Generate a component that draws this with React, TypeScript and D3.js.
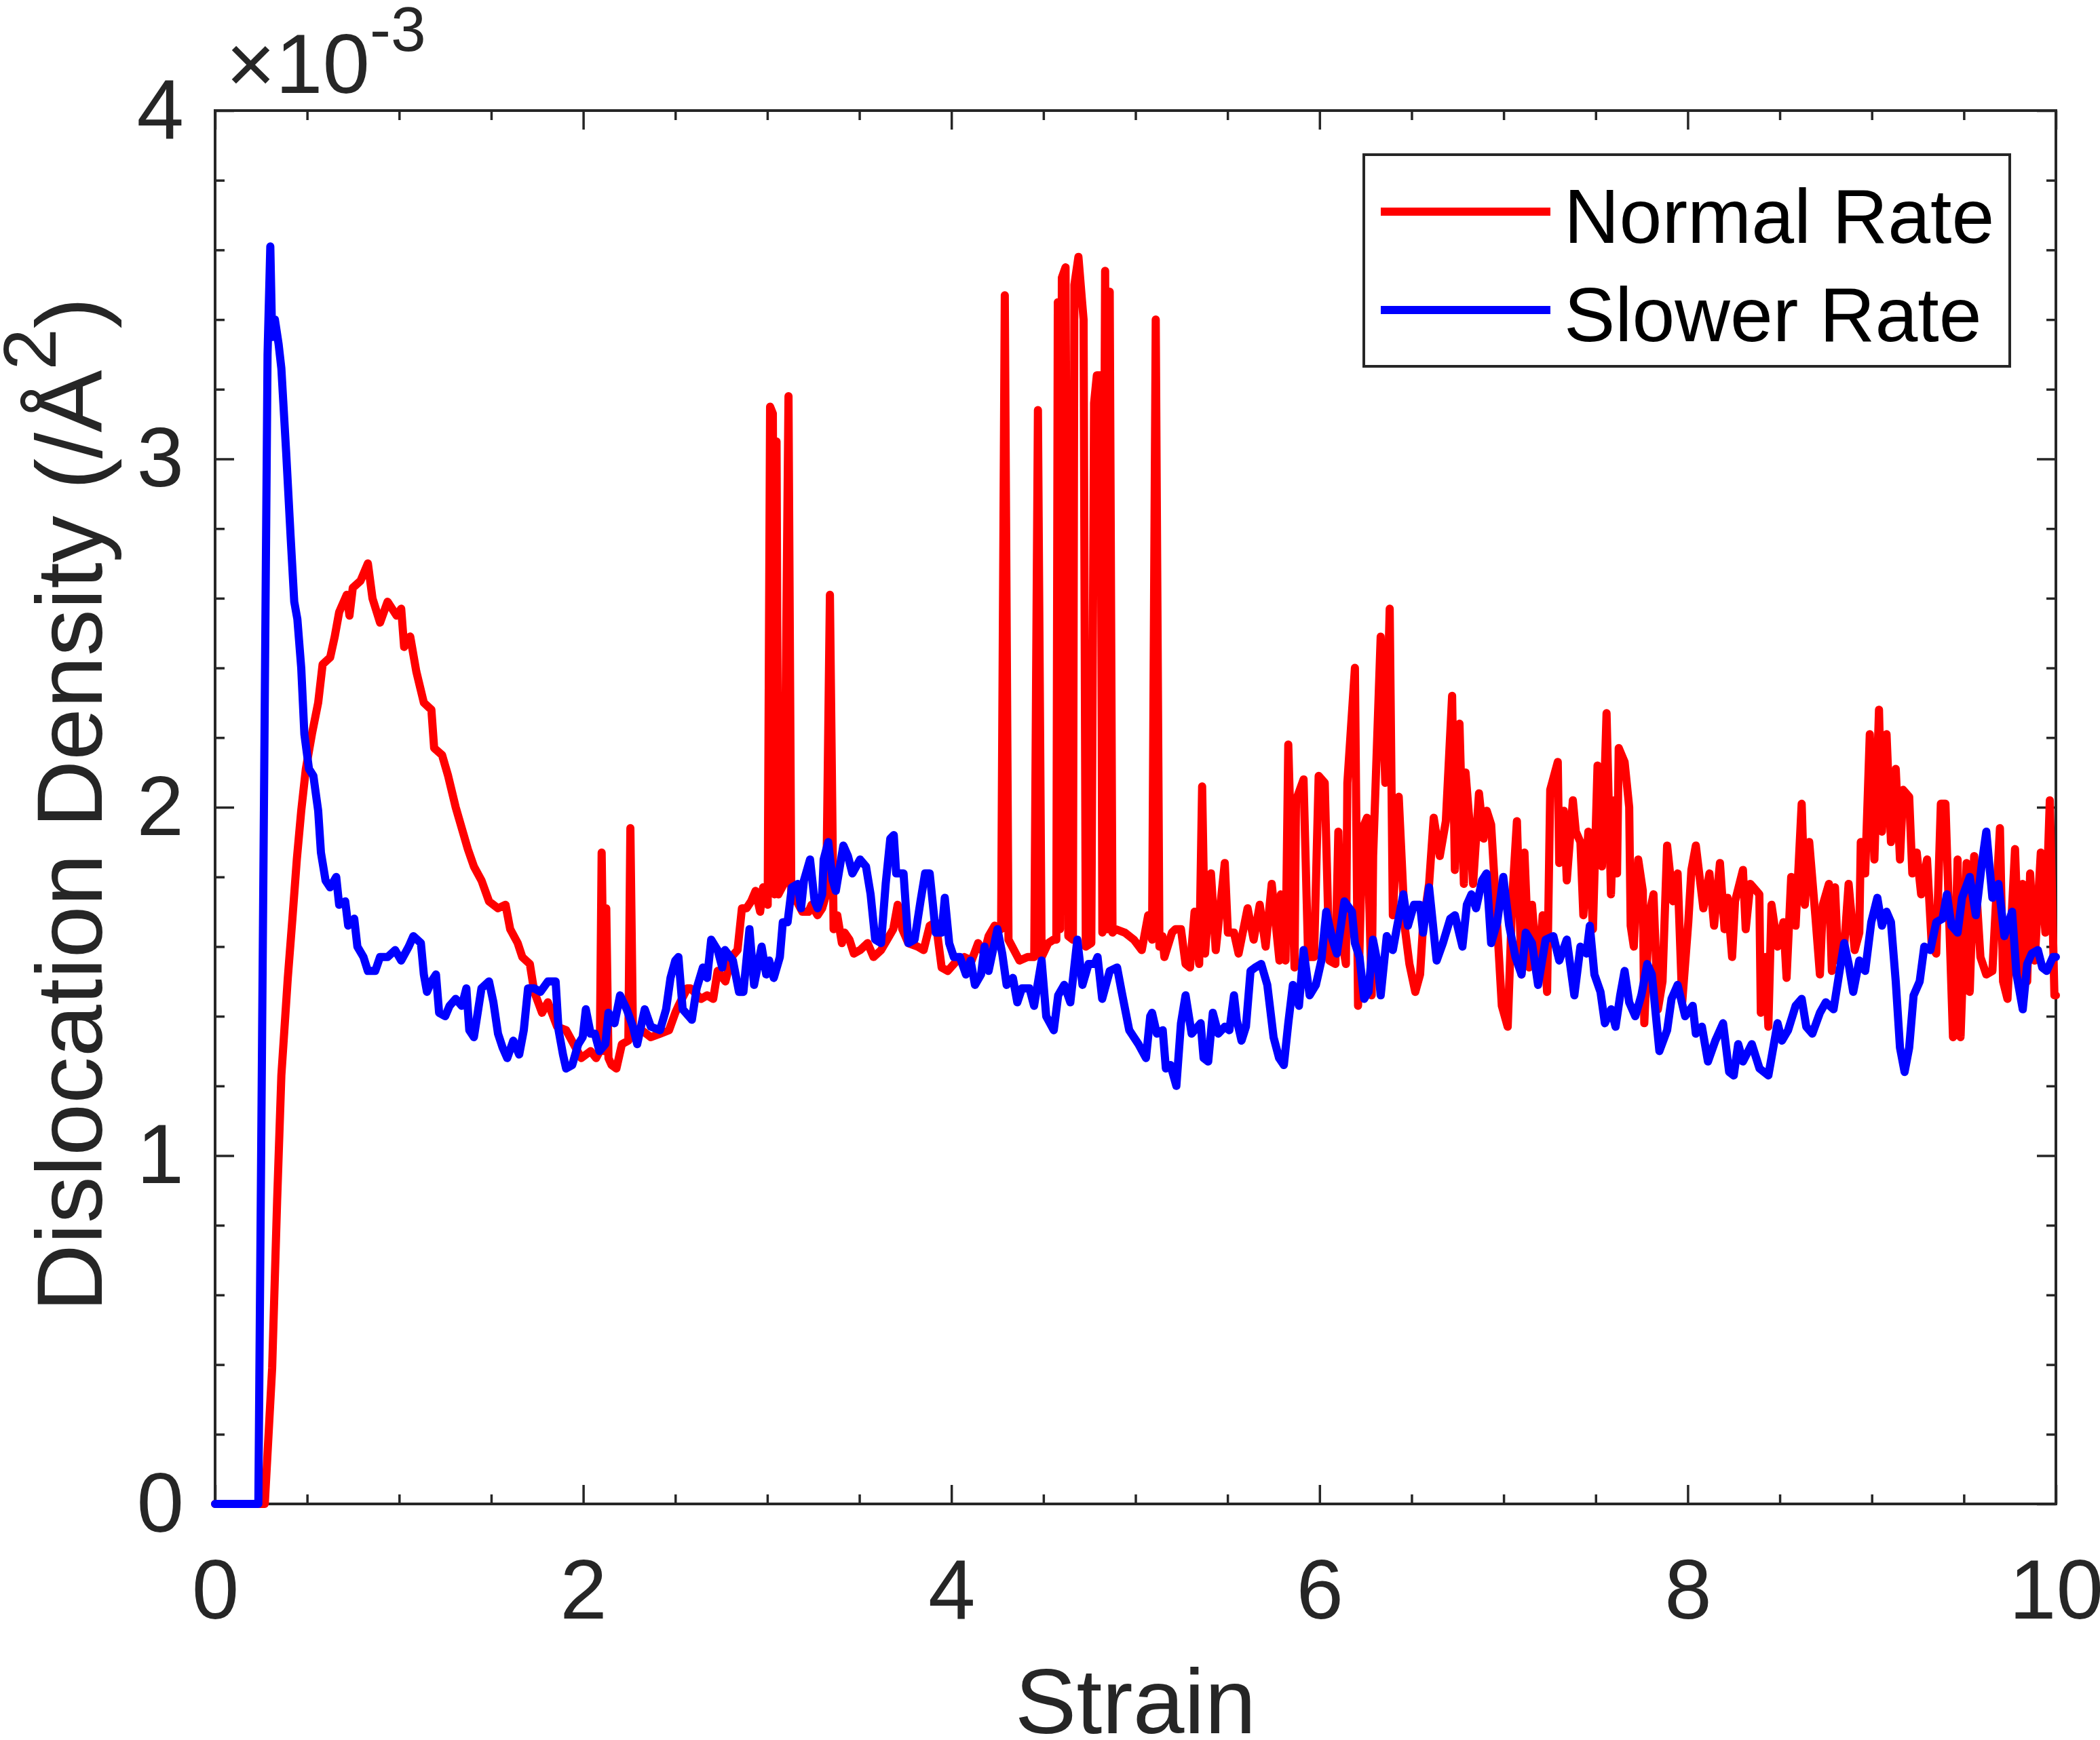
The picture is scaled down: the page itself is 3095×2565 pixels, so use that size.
import { useRef, useEffect } from 'react';
import * as d3 from 'd3';

// strain, dislocation density (x 10^-3 /Å^2)
const normalRate: [number, number][] = [
  [0, 0], [0.27, 0], [0.31, 0.39], [0.337, 0.87], [0.36, 1.23], [0.395, 1.51], [0.42, 1.68], [0.444, 1.85],
  [0.468, 1.99], [0.493, 2.11], [0.526, 2.21], [0.56, 2.3], [0.584, 2.41], [0.625, 2.43], [0.65, 2.49], [0.674, 2.56],
  [0.715, 2.61], [0.73, 2.55], [0.748, 2.63], [0.79, 2.65], [0.83, 2.7], [0.855, 2.6], [0.896, 2.53], [0.937, 2.59],
  [0.986, 2.55], [1.011, 2.57], [1.027, 2.46], [1.06, 2.49], [1.093, 2.39], [1.134, 2.3], [1.175, 2.28], [1.19, 2.17],
  [1.233, 2.15], [1.266, 2.09], [1.307, 2.0], [1.34, 1.94], [1.373, 1.88], [1.406, 1.83], [1.447, 1.79], [1.488, 1.73],
  [1.537, 1.71], [1.578, 1.72], [1.603, 1.65], [1.644, 1.61], [1.669, 1.57], [1.71, 1.55], [1.734, 1.47], [1.776, 1.41],
  [1.808, 1.44], [1.858, 1.37], [1.907, 1.36], [1.948, 1.32], [1.989, 1.28], [2.04, 1.3], [2.07, 1.28], [2.09, 1.3],
  [2.1, 1.87], [2.115, 1.3], [2.125, 1.71], [2.137, 1.28], [2.154, 1.26], [2.18, 1.25], [2.21, 1.32], [2.245, 1.33],
  [2.256, 1.94], [2.27, 1.35], [2.318, 1.36], [2.367, 1.34], [2.417, 1.35], [2.466, 1.36], [2.5, 1.41], [2.517, 1.43],
  [2.565, 1.48], [2.583, 1.48], [2.64, 1.45], [2.673, 1.46], [2.706, 1.45], [2.73, 1.53], [2.772, 1.5], [2.805, 1.57],
  [2.838, 1.59], [2.862, 1.71], [2.887, 1.71], [2.912, 1.73], [2.936, 1.76], [2.961, 1.7], [2.977, 1.77], [3.002, 1.72],
  [3.015, 3.15], [3.03, 3.13], [3.04, 1.75], [3.05, 3.05], [3.06, 1.75], [3.09, 1.78], [3.115, 3.18], [3.13, 1.76],
  [3.15, 1.74], [3.19, 1.7], [3.224, 1.7], [3.24, 1.72], [3.273, 1.69], [3.298, 1.71], [3.32, 1.75], [3.34, 2.61],
  [3.36, 1.65], [3.38, 1.69], [3.405, 1.61], [3.42, 1.64], [3.446, 1.62], [3.47, 1.58], [3.504, 1.59], [3.545, 1.61],
  [3.577, 1.57], [3.618, 1.59], [3.651, 1.62], [3.684, 1.65], [3.708, 1.72], [3.733, 1.65], [3.766, 1.61], [3.816, 1.6],
  [3.849, 1.59], [3.882, 1.66], [3.915, 1.67], [3.947, 1.54], [3.98, 1.53], [4.03, 1.56], [4.07, 1.57], [4.11, 1.56],
  [4.145, 1.61], [4.177, 1.58], [4.202, 1.63], [4.235, 1.66], [4.27, 1.65], [4.29, 3.47], [4.31, 1.62], [4.33, 1.6],
  [4.37, 1.56], [4.414, 1.57], [4.45, 1.57], [4.47, 3.14], [4.49, 1.57], [4.526, 1.61], [4.555, 1.62], [4.57, 1.62],
  [4.578, 3.45], [4.59, 1.65], [4.6, 3.52], [4.62, 3.55], [4.635, 1.63], [4.66, 1.62], [4.668, 3.5], [4.69, 3.58],
  [4.71, 3.45], [4.718, 3.4], [4.73, 1.6], [4.76, 1.61], [4.775, 3.16], [4.79, 3.24], [4.81, 3.24], [4.82, 1.64],
  [4.835, 3.54], [4.85, 1.65], [4.86, 3.48], [4.875, 1.64], [4.893, 1.65], [4.942, 1.64], [4.991, 1.62], [5.034, 1.59],
  [5.069, 1.69], [5.09, 1.62], [5.11, 3.4], [5.13, 1.6], [5.146, 1.63], [5.157, 1.57], [5.198, 1.64], [5.217, 1.65],
  [5.247, 1.65], [5.272, 1.55], [5.296, 1.54], [5.321, 1.7], [5.346, 1.55], [5.362, 2.06], [5.378, 1.58], [5.41, 1.81],
  [5.436, 1.59], [5.485, 1.84], [5.502, 1.64], [5.535, 1.64], [5.56, 1.58], [5.609, 1.71], [5.642, 1.62], [5.675, 1.72],
  [5.707, 1.6], [5.74, 1.78], [5.782, 1.56], [5.79, 1.75], [5.815, 1.56], [5.83, 2.18], [5.864, 1.54], [5.872, 2.02],
  [5.913, 2.08], [5.938, 1.57], [5.97, 1.57], [5.995, 2.09], [6.028, 2.07], [6.053, 1.56], [6.086, 1.55], [6.102, 1.93],
  [6.118, 1.63], [6.143, 1.55], [6.151, 2.07], [6.192, 2.4], [6.209, 1.43], [6.234, 1.94], [6.258, 1.97], [6.283, 1.46],
  [6.291, 1.86], [6.332, 2.49], [6.357, 2.07], [6.381, 2.57], [6.398, 1.69], [6.43, 2.03], [6.464, 1.65], [6.488, 1.55],
  [6.52, 1.47], [6.546, 1.52], [6.562, 1.66], [6.595, 1.78], [6.62, 1.97], [6.653, 1.86], [6.686, 1.96], [6.72, 2.32],
  [6.735, 1.82], [6.76, 2.24], [6.784, 1.78], [6.793, 2.1], [6.817, 1.94], [6.834, 1.78], [6.866, 2.04], [6.891, 1.91],
  [6.908, 1.99], [6.932, 1.95], [6.965, 1.66], [6.99, 1.43], [7.022, 1.37], [7.047, 1.74], [7.072, 1.96], [7.097, 1.52],
  [7.113, 1.87], [7.138, 1.54], [7.154, 1.72], [7.187, 1.5], [7.212, 1.69], [7.236, 1.47], [7.253, 2.05], [7.294, 2.13],
  [7.302, 1.84], [7.327, 1.99], [7.343, 1.79], [7.376, 2.02], [7.392, 1.93], [7.417, 1.9], [7.433, 1.69], [7.46, 1.93],
  [7.485, 1.65], [7.51, 2.12], [7.534, 1.83], [7.559, 2.27], [7.583, 1.75], [7.6, 2.02], [7.616, 1.81], [7.625, 2.17],
  [7.657, 2.13], [7.682, 2.0], [7.69, 1.66], [7.707, 1.6], [7.731, 1.85], [7.756, 1.76], [7.764, 1.38], [7.79, 1.69],
  [7.814, 1.75], [7.838, 1.42], [7.863, 1.5], [7.888, 1.89], [7.92, 1.73], [7.945, 1.81], [7.97, 1.44], [8.003, 1.67],
  [8.02, 1.82], [8.044, 1.89], [8.085, 1.71], [8.118, 1.81], [8.143, 1.66], [8.175, 1.84], [8.2, 1.65], [8.216, 1.74],
  [8.241, 1.57], [8.257, 1.73], [8.3, 1.82], [8.315, 1.65], [8.34, 1.78], [8.373, 1.76], [8.389, 1.75], [8.397, 1.41],
  [8.422, 1.57], [8.438, 1.37], [8.455, 1.72], [8.488, 1.6], [8.52, 1.67], [8.537, 1.51], [8.562, 1.8], [8.586, 1.66],
  [8.619, 2.01], [8.636, 1.72], [8.66, 1.9], [8.693, 1.69], [8.718, 1.52], [8.734, 1.72], [8.767, 1.78], [8.783, 1.53],
  [8.8, 1.77], [8.817, 1.56], [8.85, 1.6], [8.874, 1.78], [8.907, 1.59], [8.932, 1.64], [8.94, 1.9], [8.964, 1.81],
  [8.989, 2.21], [9.014, 1.85], [9.039, 2.28], [9.055, 1.93], [9.08, 2.21], [9.104, 1.9], [9.13, 2.11], [9.153, 1.85],
  [9.17, 2.05], [9.203, 2.03], [9.22, 1.81], [9.244, 1.87], [9.268, 1.75], [9.3, 1.85], [9.326, 1.6], [9.35, 1.58],
  [9.375, 2.01], [9.4, 2.01], [9.441, 1.34], [9.466, 1.85], [9.482, 1.34], [9.515, 1.84], [9.532, 1.47], [9.556, 1.86],
  [9.59, 1.57], [9.622, 1.52], [9.655, 1.53], [9.696, 1.94], [9.713, 1.5], [9.737, 1.45], [9.778, 1.88], [9.803, 1.5],
  [9.819, 1.78], [9.844, 1.5], [9.86, 1.81], [9.885, 1.56], [9.918, 1.87], [9.943, 1.64], [9.967, 2.02], [9.992, 1.46],
  [10, 1.46],
];

const slowerRate: [number, number][] = [
  [0, 0], [0.235, 0], [0.285, 3.3], [0.3, 3.61], [0.31, 3.35], [0.325, 3.4], [0.345, 3.33], [0.36, 3.26],
  [0.386, 3.02], [0.41, 2.78], [0.43, 2.59], [0.447, 2.54], [0.468, 2.4], [0.485, 2.21], [0.51, 2.11], [0.534, 2.09],
  [0.56, 1.99], [0.575, 1.87], [0.6, 1.79], [0.625, 1.77], [0.658, 1.8], [0.674, 1.72], [0.707, 1.73], [0.723, 1.66],
  [0.756, 1.68], [0.773, 1.6], [0.806, 1.57], [0.83, 1.53], [0.87, 1.53], [0.896, 1.57], [0.937, 1.57], [0.978, 1.59],
  [1.011, 1.56], [1.052, 1.6], [1.077, 1.63], [1.118, 1.61], [1.134, 1.52], [1.151, 1.47], [1.175, 1.5], [1.2, 1.52],
  [1.217, 1.41], [1.25, 1.4], [1.274, 1.43], [1.307, 1.45], [1.34, 1.43], [1.365, 1.48], [1.381, 1.36], [1.406, 1.34],
  [1.447, 1.48], [1.488, 1.5], [1.512, 1.44], [1.537, 1.35], [1.562, 1.31], [1.587, 1.28], [1.62, 1.33], [1.652, 1.29],
  [1.677, 1.36], [1.7, 1.48], [1.734, 1.48], [1.767, 1.47], [1.808, 1.5], [1.85, 1.5], [1.866, 1.36], [1.89, 1.29],
  [1.907, 1.25], [1.94, 1.26], [1.973, 1.32], [1.997, 1.34], [2.014, 1.42], [2.04, 1.35], [2.063, 1.35], [2.088, 1.3],
  [2.12, 1.32], [2.137, 1.41], [2.17, 1.38], [2.2, 1.46], [2.236, 1.42], [2.27, 1.37], [2.293, 1.32], [2.334, 1.42],
  [2.367, 1.37], [2.417, 1.36], [2.45, 1.42], [2.474, 1.51], [2.5, 1.56], [2.517, 1.57], [2.54, 1.42], [2.59, 1.39],
  [2.616, 1.48], [2.65, 1.54], [2.673, 1.51], [2.695, 1.62], [2.73, 1.59], [2.755, 1.54], [2.77, 1.59], [2.813, 1.56],
  [2.846, 1.47], [2.87, 1.47], [2.903, 1.65], [2.928, 1.49], [2.969, 1.6], [2.994, 1.52], [3.01, 1.56], [3.035, 1.51],
  [3.068, 1.57], [3.084, 1.67], [3.11, 1.67], [3.133, 1.77], [3.166, 1.78], [3.183, 1.71], [3.199, 1.79], [3.232, 1.85],
  [3.257, 1.73], [3.273, 1.71], [3.298, 1.75], [3.306, 1.85], [3.331, 1.9], [3.355, 1.79], [3.372, 1.76], [3.413, 1.89],
  [3.438, 1.86], [3.462, 1.81], [3.504, 1.85], [3.536, 1.83], [3.561, 1.75], [3.586, 1.62], [3.618, 1.61], [3.643, 1.78],
  [3.668, 1.91], [3.687, 1.92], [3.7, 1.81], [3.74, 1.81], [3.766, 1.61], [3.8, 1.62], [3.832, 1.73], [3.857, 1.81],
  [3.882, 1.81], [3.915, 1.64], [3.947, 1.64], [3.964, 1.74], [3.988, 1.61], [4.013, 1.57], [4.046, 1.57], [4.079, 1.52],
  [4.104, 1.56], [4.128, 1.49], [4.161, 1.52], [4.18, 1.6], [4.202, 1.53], [4.25, 1.65], [4.276, 1.58], [4.3, 1.49],
  [4.334, 1.51], [4.358, 1.44], [4.383, 1.48], [4.424, 1.48], [4.449, 1.43], [4.49, 1.56], [4.515, 1.4], [4.556, 1.36],
  [4.58, 1.46], [4.613, 1.49], [4.646, 1.44], [4.684, 1.62], [4.712, 1.49], [4.745, 1.55], [4.778, 1.55], [4.794, 1.57],
  [4.819, 1.45], [4.86, 1.53], [4.9, 1.54], [4.925, 1.47], [4.966, 1.36], [5.016, 1.32], [5.057, 1.28], [5.08, 1.4],
  [5.09, 1.41], [5.116, 1.35], [5.148, 1.36], [5.165, 1.25], [5.19, 1.26], [5.222, 1.2], [5.247, 1.38], [5.272, 1.46],
  [5.305, 1.35], [5.354, 1.38], [5.37, 1.28], [5.395, 1.27], [5.42, 1.41], [5.45, 1.35], [5.485, 1.37], [5.51, 1.36],
  [5.535, 1.46], [5.55, 1.39], [5.576, 1.33], [5.6, 1.37], [5.625, 1.53], [5.65, 1.54], [5.683, 1.55], [5.716, 1.49],
  [5.75, 1.34], [5.78, 1.28], [5.806, 1.26], [5.83, 1.38], [5.855, 1.49], [5.888, 1.43], [5.913, 1.59], [5.946, 1.46],
  [5.98, 1.49], [6.01, 1.56], [6.036, 1.7], [6.07, 1.62], [6.094, 1.58], [6.135, 1.73], [6.176, 1.7], [6.192, 1.61],
  [6.217, 1.57], [6.242, 1.45], [6.266, 1.47], [6.29, 1.62], [6.316, 1.55], [6.332, 1.46], [6.365, 1.63], [6.398, 1.59],
  [6.422, 1.66], [6.455, 1.75], [6.48, 1.66], [6.513, 1.72], [6.546, 1.72], [6.562, 1.64], [6.595, 1.77], [6.636, 1.56],
  [6.67, 1.61], [6.71, 1.68], [6.735, 1.69], [6.776, 1.6], [6.8, 1.72], [6.825, 1.75], [6.85, 1.71], [6.883, 1.79],
  [6.907, 1.81], [6.932, 1.61], [6.965, 1.67], [6.998, 1.8], [7.03, 1.66], [7.064, 1.57], [7.097, 1.52], [7.12, 1.64],
  [7.154, 1.61], [7.187, 1.49], [7.228, 1.62], [7.27, 1.63], [7.302, 1.56], [7.343, 1.62], [7.384, 1.46], [7.417, 1.6],
  [7.45, 1.58], [7.468, 1.66], [7.493, 1.52], [7.526, 1.47], [7.55, 1.38], [7.584, 1.42], [7.608, 1.37], [7.633, 1.46],
  [7.657, 1.53], [7.682, 1.44], [7.715, 1.4], [7.748, 1.46], [7.78, 1.55], [7.805, 1.52], [7.846, 1.3], [7.888, 1.36],
  [7.912, 1.45], [7.945, 1.49], [7.986, 1.4], [8.027, 1.43], [8.044, 1.35], [8.077, 1.37], [8.11, 1.27], [8.15, 1.33],
  [8.192, 1.38], [8.225, 1.24], [8.25, 1.23], [8.274, 1.32], [8.3, 1.27], [8.348, 1.32], [8.39, 1.25], [8.438, 1.23],
  [8.488, 1.38], [8.512, 1.33], [8.545, 1.36], [8.586, 1.43], [8.619, 1.45], [8.644, 1.37], [8.677, 1.35], [8.718, 1.41],
  [8.75, 1.44], [8.792, 1.42], [8.825, 1.53], [8.85, 1.61], [8.874, 1.55], [8.899, 1.47], [8.932, 1.56], [8.964, 1.53],
  [8.997, 1.67], [9.03, 1.74], [9.055, 1.66], [9.08, 1.7], [9.104, 1.67], [9.13, 1.5], [9.153, 1.31], [9.178, 1.24],
  [9.203, 1.31], [9.227, 1.46], [9.26, 1.5], [9.285, 1.6], [9.318, 1.59], [9.35, 1.67], [9.384, 1.68], [9.408, 1.75],
  [9.433, 1.66], [9.466, 1.64], [9.49, 1.74], [9.532, 1.8], [9.565, 1.69], [9.598, 1.84], [9.622, 1.93], [9.655, 1.74],
  [9.688, 1.78], [9.72, 1.63], [9.762, 1.7], [9.786, 1.52], [9.82, 1.42], [9.844, 1.55], [9.869, 1.58], [9.902, 1.59],
  [9.926, 1.54], [9.95, 1.53], [9.984, 1.57], [10, 1.57],
];

const xMajorTicks = [0, 2, 4, 6, 8, 10];
const yMajorTicks = [0, 1, 2, 3, 4];
const xMinorTicks = [0.5, 1, 1.5, 2.5, 3, 3.5, 4.5, 5, 5.5, 6.5, 7, 7.5, 8.5, 9, 9.5];
const yMinorTicks = [0.2, 0.4, 0.6, 0.8, 1.2, 1.4, 1.6, 1.8, 2.2, 2.4, 2.6, 2.8, 3.2, 3.4, 3.6, 3.8];

const series = [
  { name: 'Normal Rate', color: '#ff0000', data: normalRate },
  { name: 'Slower Rate', color: '#0000ff', data: slowerRate },
];

const W = 3095;
const H = 2565;
const margin = { left: 317, right: 3030, top: 163, bottom: 2217 };
const FONT = '"Liberation Sans", Arial, Helvetica, sans-serif';
const AXIS = '#262626';
const LINE_W = 12;

export default function App() {
  const svgRef = useRef<SVGSVGElement>(null);

  useEffect(() => {
    const svg = d3.select(svgRef.current);
    if (!svg.node()) return;
    svg.selectAll('*').remove();

    const x = d3.scaleLinear().domain([0, 10]).range([margin.left, margin.right]);
    const y = d3.scaleLinear().domain([0, 4]).range([margin.bottom, margin.top]);

    svg.append('rect')
      .attr('width', W)
      .attr('height', H)
      .attr('fill', '#ffffff');

    const styleAxis = (g: any, fontSize = 125) => {
      g.select('.domain').remove();
      g.attr('font-size', fontSize).attr('font-family', FONT);
      g.selectAll('line').attr('stroke', AXIS).attr('stroke-width', 3.5);
      g.selectAll('text').attr('fill', AXIS);
    };

    // bottom
    svg.append('g')
      .attr('transform', `translate(0,${margin.bottom})`)
      .call(d3.axisBottom(x).tickValues(xMajorTicks).tickSize(-28).tickSizeOuter(0).tickPadding(80).tickFormat(d3.format('d')))
      .call(styleAxis);
    svg.append('g')
      .attr('transform', `translate(0,${margin.bottom})`)
      .call(d3.axisBottom(x).tickValues(xMinorTicks).tickSize(-14).tickSizeOuter(0).tickFormat(() => ''))
      .call(styleAxis);
    // top
    svg.append('g')
      .attr('transform', `translate(0,${margin.top})`)
      .call(d3.axisTop(x).tickValues(xMajorTicks).tickSize(-28).tickSizeOuter(0).tickFormat(() => ''))
      .call(styleAxis);
    svg.append('g')
      .attr('transform', `translate(0,${margin.top})`)
      .call(d3.axisTop(x).tickValues(xMinorTicks).tickSize(-14).tickSizeOuter(0).tickFormat(() => ''))
      .call(styleAxis);
    // left
    svg.append('g')
      .attr('transform', `translate(${margin.left},0)`)
      .call(d3.axisLeft(y).tickValues(yMajorTicks).tickSize(-28).tickSizeOuter(0).tickPadding(46).tickFormat(d3.format('d')))
      .call(styleAxis);
    svg.append('g')
      .attr('transform', `translate(${margin.left},0)`)
      .call(d3.axisLeft(y).tickValues(yMinorTicks).tickSize(-14).tickSizeOuter(0).tickFormat(() => ''))
      .call(styleAxis);
    // right
    svg.append('g')
      .attr('transform', `translate(${margin.right},0)`)
      .call(d3.axisRight(y).tickValues(yMajorTicks).tickSize(-28).tickSizeOuter(0).tickFormat(() => ''))
      .call(styleAxis);
    svg.append('g')
      .attr('transform', `translate(${margin.right},0)`)
      .call(d3.axisRight(y).tickValues(yMinorTicks).tickSize(-14).tickSizeOuter(0).tickFormat(() => ''))
      .call(styleAxis);

    svg.append('rect')
      .attr('x', margin.left)
      .attr('y', margin.top)
      .attr('width', margin.right - margin.left)
      .attr('height', margin.bottom - margin.top)
      .attr('fill', 'none')
      .attr('stroke', AXIS)
      .attr('stroke-width', 4);

    // exponent label
    const expo = svg.append('text')
      .attr('x', 333)
      .attr('y', 137)
      .attr('font-family', FONT)
      .attr('font-size', 125)
      .attr('fill', AXIS)
      .text('×10');
    expo.append('tspan')
      .attr('dy', -62)
      .attr('font-size', 93)
      .text('-3');

    // axis labels
    svg.append('text')
      .attr('x', (margin.left + margin.right) / 2)
      .attr('y', 2555)
      .attr('text-anchor', 'middle')
      .attr('font-family', FONT)
      .attr('font-size', 136)
      .attr('fill', AXIS)
      .text('Strain');

    const yl = svg.append('text')
      .attr('transform', `translate(150,${(margin.top + margin.bottom) / 2 - 4}) rotate(-90)`)
      .attr('text-anchor', 'middle')
      .attr('font-family', FONT)
      .attr('font-size', 138)
      .attr('fill', AXIS);
    yl.append('tspan').text('Dislocation Density (/Å');
    yl.append('tspan').attr('dy', -68).attr('font-size', 110).text('2');
    yl.append('tspan').attr('dy', 68).text(')');

    // data lines
    const line = d3.line<[number, number]>()
      .x(d => x(d[0]))
      .y(d => y(d[1]));

    series.forEach(s => {
      svg.append('path')
        .datum(s.data)
        .attr('d', line)
        .attr('fill', 'none')
        .attr('stroke', s.color)
        .attr('stroke-width', LINE_W)
        .attr('stroke-linejoin', 'round')
        .attr('stroke-linecap', 'round');
    });

    // legend
    const legend = svg.append('g');
    legend.append('rect')
      .attr('x', 2010)
      .attr('y', 228)
      .attr('width', 952)
      .attr('height', 312)
      .attr('fill', '#ffffff')
      .attr('stroke', AXIS)
      .attr('stroke-width', 4);
    series.forEach((s, i) => {
      const ly = 312 + i * 145;
      legend.append('line')
        .attr('x1', 2035)
        .attr('x2', 2285)
        .attr('y1', ly)
        .attr('y2', ly)
        .attr('stroke', s.color)
        .attr('stroke-width', LINE_W);
      legend.append('text')
        .attr('x', 2305)
        .attr('y', ly + 46)
        .attr('font-family', FONT)
        .attr('font-size', 113)
        .attr('fill', '#000000')
        .text(s.name);
    });
  }, []);

  return (
    <svg
      ref={svgRef}
      width={W}
      height={H}
      viewBox={`0 0 ${W} ${H}`}
      style={{ position: 'absolute', left: 0, top: 0, display: 'block' }}
    />
  );
}
